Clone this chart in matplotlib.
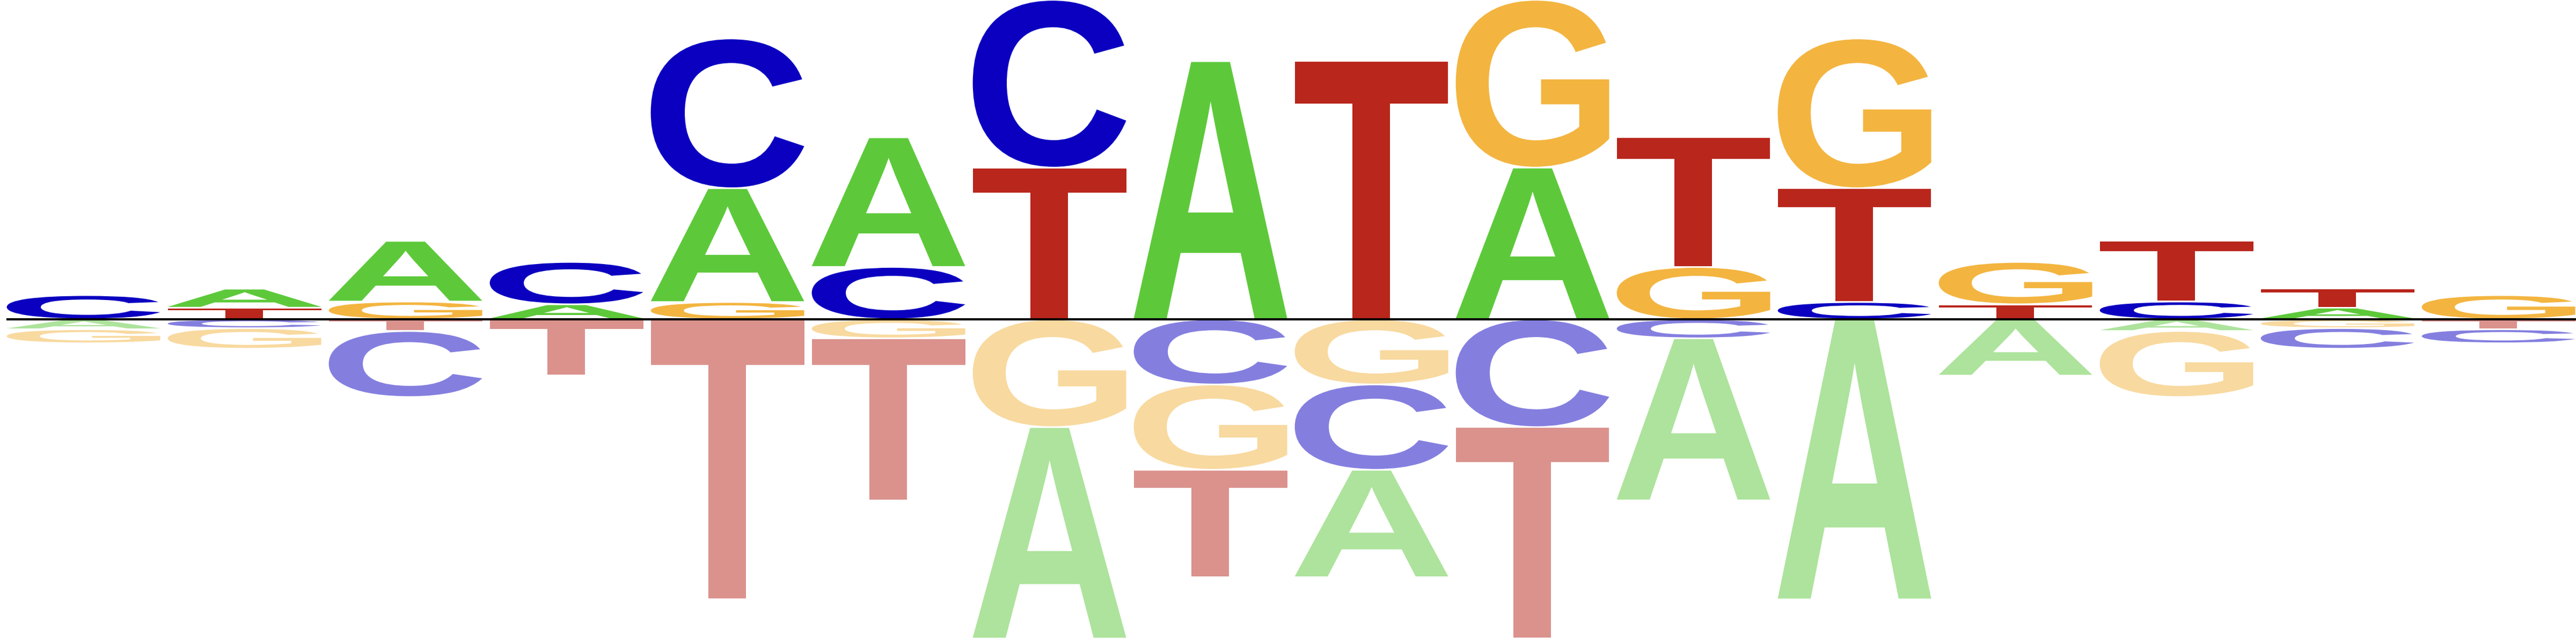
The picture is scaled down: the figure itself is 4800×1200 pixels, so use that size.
import matplotlib
matplotlib.use("Agg")
import matplotlib.pyplot as plt
from matplotlib.textpath import TextPath
from matplotlib.patches import PathPatch
from matplotlib.font_manager import FontProperties
from matplotlib.transforms import Affine2D

# letter heights per position (positive = enriched, negative = depleted)
bases = ["A", "C", "G", "T"]
pos_A = [0, 0.118, 0.377, 0.093, 0.707, 0.805, 0, 1.603, 0, 0.942, 0, 0, 0, 0, 0.072, 0]
pos_C = [0.15, 0, 0, 0.263, 0.93, 0.325, 1.042, 0, 0, 0, 0, 0.107, 0, 0.11, 0, 0]
pos_G = [0, 0, 0.11, 0, 0.107, 0, 0, 0, 0, 1.042, 0.325, 0.93, 0.263, 0, 0, 0.15]
pos_T = [0, 0.072, 0, 0, 0, 0, 0.942, 0, 1.603, 0, 0.805, 0.707, 0.093, 0.377, 0.118, 0]

neg_A = [0.062, 0, 0, 0, 0, 0, 1.313, 0, 0.667, 0, 1.007, 1.74, 0.35, 0.073, 0, 0]
neg_C = [0, 0.055, 0.41, 0, 0, 0, 0, 0.405, 0.53, 0.67, 0.118, 0, 0, 0, 0.128, 0.087]
neg_G = [0.087, 0.128, 0, 0, 0, 0.118, 0.67, 0.53, 0.405, 0, 0, 0, 0, 0.41, 0.055, 0]
neg_T = [0, 0, 0.073, 0.35, 1.74, 1.007, 0, 0.667, 0, 1.313, 0, 0, 0, 0, 0, 0.062]

colors = {"A": "#5dc93a", "C": "#0b00c0", "G": "#f3b540", "T": "#b9261c"}

font = FontProperties(family="Liberation Sans", weight="bold")
pad = 0.005


def draw_letter(ax, ch, x0, x1, y0, y1, color, alpha):
    tp = TextPath((0, 0), ch, size=1, prop=font)
    ext = tp.get_extents()
    t = (Affine2D()
         .translate(-ext.x0, -ext.y0)
         .scale((x1 - x0) / ext.width, (y1 - y0) / ext.height)
         .translate(x0, y0))
    ax.add_patch(PathPatch(t.transform_path(tp), facecolor=color,
                           edgecolor="none", lw=0, alpha=alpha))


fig = plt.figure(figsize=(48, 12), dpi=100)
ax = fig.add_axes([0, 0, 1, 1])
ax.set_xlim(0, 16)
ax.set_ylim(-2.017, 1.983)
ax.axis("off")

pos = dict(zip(bases, [pos_A, pos_C, pos_G, pos_T]))
neg = dict(zip(bases, [neg_A, neg_C, neg_G, neg_T]))

for i in range(16):
    x0, x1 = i + 0.042, i + 0.995
    # positive stack: smallest at the bottom
    stack = sorted([(pos[b][i], b) for b in bases if pos[b][i] > 0])
    y = 0
    for h, b in stack:
        draw_letter(ax, b, x0, x1, y + pad, y + h - pad, colors[b], 1.0)
        y += h
    # negative stack: smallest next to the baseline
    stack = sorted([(neg[b][i], b) for b in bases if neg[b][i] > 0])
    y = 0
    for h, b in stack:
        draw_letter(ax, b, x0, x1, y - h + pad, y - pad, colors[b], 0.5)
        y -= h

ax.plot([0.04, 16], [0, 0], color="black", lw=3, solid_capstyle="butt")

fig.savefig("out.png", dpi=100)
